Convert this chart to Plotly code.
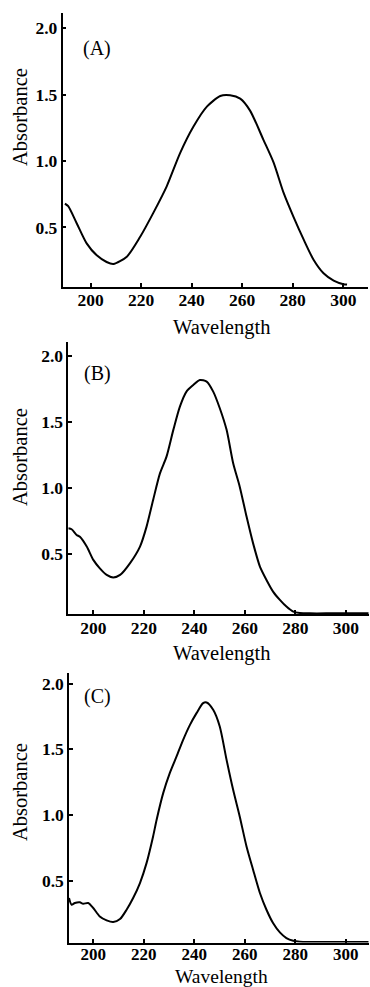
import plotly.graph_objects as go

# ---- data ----
wl_a = [189.8, 191.1, 194.5, 198.4, 202.4, 206.3, 209.0, 214.3, 219.6, 224.8, 230.1, 235.4, 240.7,
        246.0, 251.3, 255.2, 259.2, 263.1, 268.4, 272.4, 276.4, 280.3, 284.3, 288.3, 292.2, 296.2,
        300.1, 301.5]
abs_a = [0.68, 0.66, 0.53, 0.38, 0.29, 0.24, 0.225, 0.28, 0.43, 0.61, 0.81, 1.06, 1.26,
         1.41, 1.49, 1.495, 1.47, 1.38, 1.16, 0.99, 0.76, 0.58, 0.41, 0.255, 0.155, 0.10,
         0.073, 0.07]

wl_b = [190.1, 191.4, 193.4, 194.7, 197.4, 200.0, 202.6, 205.3, 207.9, 210.6, 214.5, 218.5, 221.1,
        223.7, 226.4, 229.0, 231.7, 234.3, 236.9, 239.6, 242.2, 244.9, 247.5, 250.1, 252.8, 255.4,
        258.0, 260.7, 263.3, 266.0, 268.6, 271.2, 273.9, 276.5, 279.2, 281.8, 285.8, 295.0, 309.0]
abs_b = [0.694, 0.687, 0.644, 0.63, 0.556, 0.455, 0.391, 0.341, 0.321, 0.341, 0.429, 0.556, 0.707,
         0.909, 1.11, 1.237, 1.44, 1.616, 1.73, 1.78, 1.818, 1.806, 1.73, 1.604, 1.44, 1.187,
         1.01, 0.783, 0.58, 0.404, 0.303, 0.215, 0.152, 0.101, 0.063, 0.053, 0.05, 0.05, 0.05]

wl_c = [190.4, 191.4, 192.7, 194.7, 196.0, 198.0, 200.0, 202.6, 205.3, 207.9, 210.6, 213.2, 215.8,
        218.5, 221.1, 223.7, 225.1, 227.7, 230.3, 233.0, 235.6, 238.3, 240.9, 243.5, 244.9, 247.5,
        250.1, 252.8, 255.4, 258.0, 260.7, 263.3, 266.0, 268.6, 271.2, 273.9, 276.5, 279.2, 281.8,
        285.8, 295.0, 309.0]
abs_c = [0.37, 0.319, 0.332, 0.337, 0.327, 0.332, 0.294, 0.23, 0.2, 0.187, 0.21, 0.281, 0.37,
         0.484, 0.635, 0.838, 0.965, 1.167, 1.319, 1.446, 1.572, 1.686, 1.775, 1.851, 1.856, 1.8,
         1.673, 1.42, 1.192, 0.99, 0.762, 0.585, 0.408, 0.281, 0.18, 0.109, 0.066, 0.045, 0.038,
         0.036, 0.036, 0.036]

panel_labels = ["(A)", "(B)", "(C)"]
x_title = "Wavelength"
y_title = "Absorbance"
x_ticks = [200, 220, 240, 260, 280, 300]
y_ticks = [0.5, 1.0, 1.5, 2.0]

W, H = 370, 987
FONT = "Liberation Serif"

# panel geometry in pixels: (left, right, top, bottom), axis ranges
panels = [
    dict(l=62.5, r=368, t=13.3, b=286.7, xr=[188.84, 309.8], yr=[0.054, 2.113],
         lab=(97, 49), ytit=(20, 117), xtit=(221, 327), xfs=20.5, so=-3, tfs=17.5),
    dict(l=68.3, r=369, t=341.7, b=614, xr=[190.1, 309.2], yr=[0.045, 2.108],
         lab=(97, 373), ytit=(20, 457), xtit=(221, 653), xfs=20.5, so=-3, tfs=17.5),
    dict(l=69, r=369, t=673, b=942.5, xr=[190.4, 309.2], yr=[0.032, 2.080],
         lab=(97, 696), ytit=(20, 792), xtit=(221, 976.3), xfs=19.5, so=-5, tfs=17),
]

series = [(wl_a, abs_a), (wl_b, abs_b), (wl_c, abs_c)]

fig = go.Figure()
layout = dict(
    template="none",
    width=W, height=H, margin=dict(l=0, r=0, t=0, b=0, pad=0),
    paper_bgcolor="white", plot_bgcolor="white", showlegend=False,
    font=dict(family=FONT, color="black"),
)
annotations = []
for i, (p, (xs, ys)) in enumerate(zip(panels, series)):
    k = "" if i == 0 else str(i + 1)
    fig.add_trace(go.Scatter(x=xs, y=ys, mode="lines",
                             line=dict(color="black", width=2, shape="spline", smoothing=0.7),
                             xaxis="x" + k, yaxis="y" + k, hoverinfo="skip"))
    layout["xaxis" + k] = dict(
        domain=[p["l"] / W, p["r"] / W], range=p["xr"], anchor="y" + k, automargin=False,
        tickvals=x_ticks, ticks="inside", ticklen=4, tickwidth=1.5, tickcolor="black",
        ticklabelstandoff=p["so"],
        showline=True, linecolor="black", linewidth=1.5, showgrid=False, zeroline=False,
        tickfont=dict(family=FONT, size=p["tfs"], color="black", weight="bold"),
    )
    layout["yaxis" + k] = dict(
        domain=[1 - p["b"] / H, 1 - p["t"] / H], range=p["yr"], anchor="x" + k, automargin=False,
        tickvals=y_ticks, tickformat=".1f", ticks="inside", ticklen=4, tickwidth=1.5,
        tickcolor="black", showline=True, linecolor="black", linewidth=1.5,
        showgrid=False, zeroline=False,
        tickfont=dict(family=FONT, size=17.5, color="black", weight="bold"),
    )
    annotations.append(dict(text=panel_labels[i], xref="paper", yref="paper",
                            x=p["lab"][0] / W, y=1 - p["lab"][1] / H, showarrow=False,
                            xanchor="center", yanchor="middle",
                            font=dict(family=FONT, size=20, color="black")))
    annotations.append(dict(text=y_title, xref="paper", yref="paper", textangle=-90,
                            x=p["ytit"][0] / W, y=1 - p["ytit"][1] / H, showarrow=False,
                            xanchor="center", yanchor="middle",
                            font=dict(family=FONT, size=20.5, color="black")))
    annotations.append(dict(text=x_title, xref="paper", yref="paper",
                            x=p["xtit"][0] / W, y=1 - p["xtit"][1] / H, showarrow=False,
                            xanchor="center", yanchor="middle",
                            font=dict(family=FONT, size=p["xfs"], color="black")))
layout["annotations"] = annotations
fig.update_layout(**layout)
fig.write_html(
    "out.html",
    config={"displayModeBar": False},
    post_script="document.body.style.margin='0';document.body.style.padding='0';"
                "document.documentElement.style.overflow='hidden';",
)
